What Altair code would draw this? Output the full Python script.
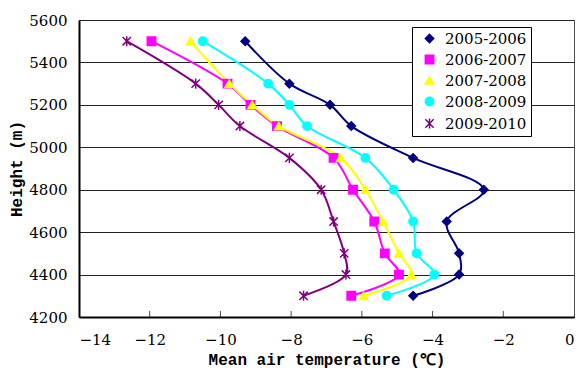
import altair as alt
import pandas as pd

heights = [5500, 5300, 5200, 5100, 4950, 4800, 4650, 4500, 4400, 4300]
series_names = ["2005-2006", "2006-2007", "2007-2008", "2008-2009", "2009-2010"]
t_2005_2006 = [-9.3, -8.05, -6.9, -6.3, -4.55, -2.55, -3.6, -3.25, -3.25, -4.55]
t_2006_2007 = [-11.95, -9.8, -9.15, -8.4, -6.8, -6.25, -5.65, -5.35, -4.95, -6.3]
t_2007_2008 = [-10.85, -9.75, -9.1, -8.35, -6.6, -5.9, -5.4, -4.95, -4.6, -5.95]
t_2008_2009 = [-10.5, -8.65, -8.05, -7.55, -5.9, -5.1, -4.55, -4.45, -3.95, -5.3]
t_2009_2010 = [-12.65, -10.7, -10.05, -9.45, -8.05, -7.15, -6.8, -6.5, -6.45, -7.65]
x_ticks = [-14, -12, -10, -8, -6, -4, -2, 0]
inner_ticks = [-12, -10, -8, -6, -4, -2]
y_ticks = [4200, 4400, 4600, 4800, 5000, 5200, 5400, 5600]

colors = ["#000080", "#FF00FF", "#FFFF00", "#00FFFF", "#800080"]
shapes = ["diamond", "square", "triangle-up", "circle",
          "M-1,-1L1,1M-1,1L1,-1M0,-1.2L0,1.2"]

rows = []
for name, vals in zip(series_names, [t_2005_2006, t_2006_2007, t_2007_2008, t_2008_2009, t_2009_2010]):
    for i, (h, t) in enumerate(zip(heights, vals)):
        rows.append({"series": name, "h": h, "t": t, "i": i})
df = pd.DataFrame(rows)
tick_df = pd.DataFrame({"v": inner_ticks})

xscale = alt.Scale(domain=[-14, 0], nice=False)
yscale = alt.Scale(domain=[4200, 5600], nice=False)
color_scale = alt.Scale(domain=series_names, range=colors)
shape_scale = alt.Scale(domain=series_names, range=shapes)

serif = "DejaVu Serif"
mono = "Liberation Mono"

x_axis = alt.Axis(values=x_ticks, format="d", grid=False, labelPadding=15,
                  title="Mean air temperature (℃)", titlePadding=4)
y_axis = alt.Axis(values=y_ticks, format="d", grid=True, labelPadding=12,
                  title="Height (m)", titlePadding=4)

leg = alt.Legend(title=None)

base = alt.Chart(df)

lines = base.mark_line(interpolate="catmull-rom", strokeWidth=2).encode(
    x=alt.X("t:Q", scale=xscale, axis=x_axis),
    y=alt.Y("h:Q", scale=yscale, axis=y_axis),
    color=alt.Color("series:N", scale=color_scale, legend=leg),
    order=alt.Order("i:Q"),
)

points = base.mark_point(filled=True, size=70, strokeWidth=1.5, opacity=1).encode(
    x=alt.X("t:Q", scale=xscale, axis=x_axis),
    y=alt.Y("h:Q", scale=yscale, axis=y_axis),
    color=alt.Color("series:N", scale=color_scale, legend=leg),
    stroke=alt.Stroke("series:N", scale=color_scale, legend=leg),
    shape=alt.Shape("series:N", scale=shape_scale, legend=leg),
)

ticks = alt.Chart(tick_df).mark_tick(orient="vertical", size=6, thickness=1, yOffset=-3,
                                     color="black").encode(
    x=alt.X("v:Q", scale=xscale, axis=x_axis),
    y=alt.Y(datum=4200, scale=yscale, axis=y_axis),
)

chart = alt.layer(lines, ticks, points).properties(
    width=495, height=297,
    padding={"left": 79, "top": 20, "right": 10, "bottom": 55},
    autosize="none",
    background="white",
).configure_view(
    stroke="#505050", strokeWidth=1
).configure_axis(
    labelFont=serif, labelFontSize=15, labelColor="black",
    domainColor="black", domainWidth=2, ticks=False, tickSize=0,
    gridColor="#222222", gridWidth=1.2,
    titleFont=mono, titleFontSize=16, titleFontWeight="bold", titleColor="black",
).configure_legend(
    orient="none", legendX=333, legendY=7, strokeColor="black",
    fillColor="white", padding=4, labelFont=serif, labelFontSize=15,
    labelColor="black", symbolSize=70, rowPadding=5, symbolOffset=6,
    labelOffset=8, symbolStrokeWidth=1.5, cornerRadius=0,
)

chart.save("out.html", embed_options={"renderer": "svg", "actions": False})
